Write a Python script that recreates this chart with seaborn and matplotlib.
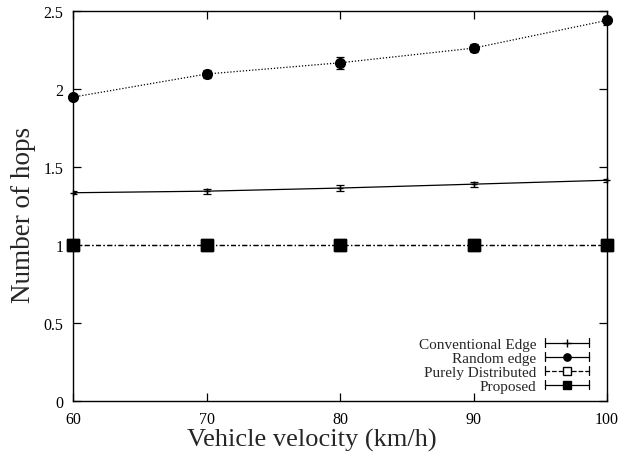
import matplotlib
matplotlib.use("Agg")
import matplotlib.pyplot as plt
import seaborn as sns
import pandas as pd
from matplotlib.lines import Line2D
from matplotlib.legend_handler import HandlerBase

velocity = [60, 70, 80, 90, 100]
conv_edge = [1.335, 1.345, 1.365, 1.39, 1.415]
conv_err = [0.01, 0.015, 0.02, 0.015, 0.01]
random_edge = [1.948, 2.096, 2.168, 2.262, 2.44]
random_err = [0.015, 0.025, 0.04, 0.025, 0.03]
purely = [1.0, 1.0, 1.0, 1.0, 1.0]
purely_err = [0.0, 0.0, 0.0, 0.0, 0.0]
proposed = [1.0, 1.0, 1.0, 1.0, 1.0]
proposed_err = [0.0, 0.0, 0.0, 0.0, 0.0]
series_names = ["Conventional Edge", "Random edge", "Purely Distributed", "Proposed"]

sns.set_style("ticks")
plt.rcParams["font.family"] = ["Liberation Serif", "DejaVu Serif"]

fig = plt.figure(figsize=(6.21, 4.56), dpi=100)
ax = fig.add_axes([73 / 621, 54 / 456, 534 / 621, 390 / 456])

df = pd.DataFrame({
    "velocity": velocity * 4,
    "hops": conv_edge + random_edge + purely + proposed,
    "err": conv_err + random_err + purely_err + proposed_err,
    "series": sum([[n] * len(velocity) for n in series_names], []),
})

styles = {
    "Conventional Edge": dict(ls="-", marker="+", ms=5, mfc="black"),
    "Random edge": dict(ls=(0, (1, 1.5)), marker="o", ms=7, mfc="black"),
    "Purely Distributed": dict(ls=(0, (4, 2, 1, 2)), marker="s", ms=8, mfc="white"),
    "Proposed": dict(ls=(0, (4, 2, 1, 2)), marker="s", ms=8, mfc="black"),
}

for name in series_names:
    sub = df[df["series"] == name]
    st = styles[name]
    sns.lineplot(data=sub, x="velocity", y="hops", ax=ax, color="black",
                 linestyle=st["ls"], linewidth=0.9, legend=False)
    ax.errorbar(sub["velocity"], sub["hops"], yerr=sub["err"], fmt="none",
                ecolor="black", elinewidth=0.9, capsize=3, capthick=0.9)
    ax.plot(sub["velocity"], sub["hops"], linestyle="none", marker=st["marker"],
            ms=st["ms"], mfc=st["mfc"], mec="black", mew=1.0, clip_on=False, zorder=5)


class HandlerEB(HandlerBase):
    def create_artists(self, legend, orig_handle, xdescent, ydescent, width,
                       height, fontsize, trans):
        y = height / 2 - ydescent
        x0, x1 = -xdescent, -xdescent + width
        ls = orig_handle.get_linestyle()
        line = Line2D([x0, x1], [y, y], color="black", lw=0.9, linestyle=ls)
        c1 = Line2D([x0, x0], [y - 3, y + 3], color="black", lw=0.9)
        c2 = Line2D([x1, x1], [y - 3, y + 3], color="black", lw=0.9)
        mk = Line2D([(x0 + x1) / 2], [y], linestyle="none",
                    marker=orig_handle.get_marker(),
                    ms=orig_handle.get_markersize(),
                    mfc=orig_handle.get_markerfacecolor(), mec="black", mew=1.0)
        arts = [line, c1, c2, mk]
        for a in arts:
            a.set_transform(trans)
        return arts


handles = []
for name in series_names:
    st = styles[name]
    lls = "-" if name != "Purely Distributed" else (0, (3, 2, 1, 2))
    ms = st["ms"] * (0.75 if st["marker"] != "+" else 1.2)
    handles.append(Line2D([], [], color="black", linestyle=lls, marker=st["marker"],
                          ms=ms, mfc=st["mfc"], mec="black"))
ax.legend(handles, series_names, loc="lower right",
          bbox_to_anchor=((589 - 73) / 534, (402 - 394) / 390),
          markerfirst=False, frameon=False, fontsize=11, handlelength=2.9,
          handletextpad=0.55, labelspacing=0.02, borderaxespad=0, borderpad=0,
          handler_map={Line2D: HandlerEB()})

ax.set_xlim(60, 100)
ax.set_ylim(0, 2.5)
ax.set_xticks(velocity)
ax.set_yticks([0, 0.5, 1, 1.5, 2, 2.5])
ax.set_yticklabels(["0", "0.5", "1", "1.5", "2", "2.5"])
ax.tick_params(direction="in", length=6, width=0.9, labelsize=11.5,
               top=True, right=True, colors="black", pad=7)
for s in ax.spines.values():
    s.set_visible(True)
    s.set_linewidth(1.0)
    s.set_color("black")
ax.set_xlabel("Vehicle velocity (km/h)", fontsize=19)
ax.set_ylabel("Number of hops", fontsize=19.5)
ax.xaxis.set_label_coords(0.448, -0.068)
ax.yaxis.set_label_coords(-0.069, 0.48)

fig.savefig("out.png", dpi=100)
